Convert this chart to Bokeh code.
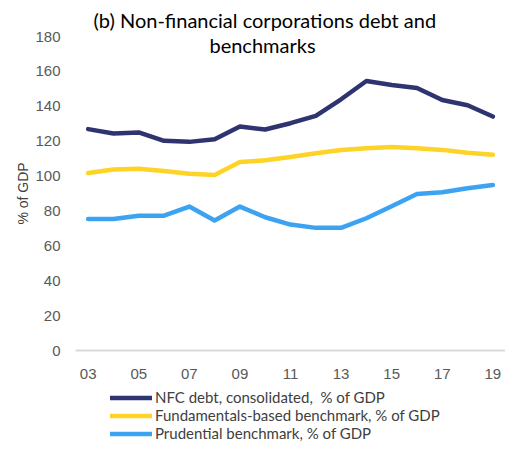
from bokeh.plotting import figure
from bokeh.layouts import column
from bokeh.models import Range1d, FixedTicker, Legend, LegendItem, Label
from bokeh.embed import file_html
from bokeh.resources import INLINE

years = [2003, 2004, 2005, 2006, 2007, 2008, 2009, 2010, 2011, 2012,
         2013, 2014, 2015, 2016, 2017, 2018, 2019]
nfc_debt = [126.9, 124.4, 125.0, 120.2, 119.6, 121.1, 128.4, 126.7, 130.3, 134.5,
            144.0, 154.5, 152.2, 150.5, 143.6, 140.6, 134.1]
fundamentals = [101.7, 103.8, 104.2, 102.9, 101.3, 100.6, 108.0, 109.0, 110.9, 113.1,
                114.9, 116.0, 116.6, 116.0, 115.0, 113.3, 112.2]
prudential = [75.4, 75.4, 77.3, 77.3, 82.5, 74.5, 82.5, 76.4, 72.2, 70.3,
              70.3, 75.8, 82.7, 89.7, 90.7, 93.0, 94.9]
tick_years = [2003, 2005, 2007, 2009, 2011, 2013, 2015, 2017, 2019]
tick_labels = ["03", "05", "07", "09", "11", "13", "15", "17", "19"]
y_ticks = [0, 20, 40, 60, 80, 100, 120, 140, 160, 180]
series_names = ["NFC debt, consolidated,  % of GDP",
                "Fundamentals-based benchmark, % of GDP",
                "Prudential benchmark, % of GDP"]
colors = ["#2E3470", "#FDD326", "#3CA3F2"]
title_lines = ["(b) Non-financial corporations debt and", "benchmarks"]
all_series = [nfc_debt, fundamentals, prudential]

p = figure(width=505, height=389, output_backend="svg", toolbar_location=None,
           x_range=Range1d(2002.5, 2019.5), y_range=Range1d(0, 180),
           min_border_left=75, min_border_right=0, min_border_top=36,
           min_border_bottom=39, outline_line_color=None)
p.xgrid.visible = False
p.ygrid.visible = False

p.title.text = title_lines[0]
p.title.align = "left"
p.title.offset = 18
p.title.standoff = 9
p.title.text_font = "Lato"
p.title.text_font_size = "20px"
p.title.text_font_style = "normal"
p.title.text_color = "#000000"

for vals, c in zip(all_series, colors):
    p.line(years, vals, line_color=c, line_width=4.5, line_join="round", line_cap="round")

p.xaxis.ticker = FixedTicker(ticks=tick_years)
p.xaxis.major_label_overrides = {t: l for t, l in zip(tick_years, tick_labels)}
p.yaxis.ticker = FixedTicker(ticks=y_ticks)
for ax in (p.xaxis, p.yaxis):
    ax.major_tick_line_color = None
    ax.minor_tick_line_color = None
    ax.major_label_text_font = "Liberation Sans"
    ax.major_label_text_font_size = "15px"
    ax.major_label_text_color = "#595959"
p.xaxis.axis_line_color = "#D9D9D9"
p.xaxis.axis_line_width = 2
p.xaxis.major_label_standoff = 12
p.yaxis.axis_line_color = None
p.yaxis.major_label_standoff = 9
p.yaxis.axis_label = "% of GDP"
p.yaxis.axis_label_text_font = "Liberation Sans"
p.yaxis.axis_label_text_font_style = "normal"
p.yaxis.axis_label_text_font_size = "14px"
p.yaxis.axis_label_text_color = "#404040"
p.yaxis.axis_label_standoff = 1

p.add_layout(Label(x=187, y=306, x_units="screen", y_units="screen", text=title_lines[1],
                   text_align="center", text_baseline="middle", text_font="Lato",
                   text_font_size="20px", text_color="#000000"))

# legend panel below the chart (keys reuse the series, drawn off-view)
pl = figure(width=505, height=53, output_backend="svg", toolbar_location=None,
            x_range=Range1d(0, 1), y_range=Range1d(0, 1),
            x_axis_location=None, y_axis_location=None,
            min_border_left=0, min_border_right=0, min_border_top=0,
            min_border_bottom=0, outline_line_color=None)
pl.xgrid.visible = False
pl.ygrid.visible = False
key_renderers = [pl.line(years, vals, line_color=c, line_width=4.5, line_cap="round")
                 for vals, c in zip(all_series, colors)]
items = [LegendItem(label=n, renderers=[r]) for n, r in zip(series_names, key_renderers)]
legend = Legend(items=items, location=(35, 0), orientation="vertical",
                background_fill_alpha=0, border_line_color=None,
                label_text_font="Lato", label_text_font_size="15px",
                label_text_color="#404040", glyph_width=42, glyph_height=17,
                label_height=17, spacing=0, padding=0, margin=0, label_standoff=3)
pl.add_layout(legend, "center")

layout = column(p, pl, spacing=0)
open("out.html", "w").write(file_html(layout, INLINE))
